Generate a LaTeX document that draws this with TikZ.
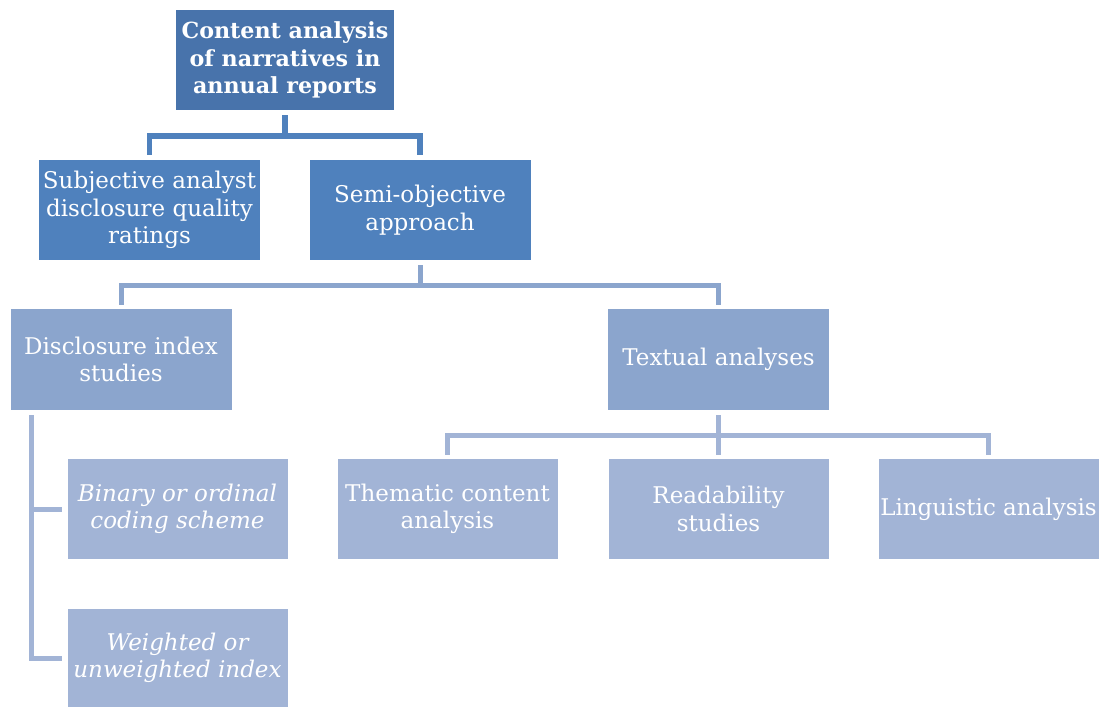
\documentclass[tikz,border=0pt]{standalone}
\usepackage{fontspec}
\setmainfont{DejaVu Serif}
\definecolor{cRoot}{HTML}{4873AB}
\definecolor{cL2}{HTML}{4F81BD}
\definecolor{cL3}{HTML}{8BA5CD}
\definecolor{cL4}{HTML}{A2B4D6}
\begin{document}
\begin{tikzpicture}[x=1pt,y=-1pt,
  box/.style={rectangle,inner sep=0pt,minimum width=#1,align=center,text=white,
    font=\fontsize{23}{27.5}\selectfont},
  box/.default=220pt,
  lvA/.style={box=218pt,fill=cRoot,minimum height=100pt,font=\fontsize{22.2}{27.5}\selectfont\bfseries},
  lvB/.style={box=221pt,fill=cL2,minimum height=100pt},
  lvC/.style={box=221pt,fill=cL3,minimum height=101pt},
  lvD/.style={box=220pt,fill=cL4,minimum height=100pt},
  connA/.style={draw=cL2,line width=5.5pt},
  connB/.style={draw=cL3,line width=5pt},
  connC/.style={draw=cL4,line width=5pt}]
\useasboundingbox (0,0) rectangle (1100,707);
% nodes
\node[lvA] (root) at (285,60) {Content analysis\\of narratives in\\annual reports};
\node[lvB] (subj) at (149.5,210) {Subjective analyst\\disclosure quality\\ratings};
\node[lvB] (semi) at (420,210) {Semi-objective\\approach};
\node[lvC] (disc) at (121,359.5) {Disclosure index\\studies};
\node[lvC] (text) at (718.5,359.5) {Textual analyses};
\node[lvD] (bin) at (177.5,509) {\itshape Binary or ordinal\\\itshape coding scheme};
\node[lvD,minimum height=98pt] (wei) at (177.5,658) {\itshape Weighted or\\\itshape unweighted index};
\node[lvD] (them) at (447.5,509) {Thematic content\\analysis};
\node[lvD] (read) at (718.5,509) {Readability\\studies};
\node[lvD] (ling) at (988.5,509) {Linguistic analysis};
% connectors
\draw[connA] ([yshift=-5pt]root.south) -- ++(0,21) coordinate (j1);
\draw[connA] ([yshift=5pt]subj.north) |- (j1) -| ([yshift=5pt]semi.north);
\draw[connB] ([yshift=-5pt]semi.south) -- ++(0,20) coordinate (j2);
\draw[connB] ([yshift=4pt]disc.north) |- (j2) -| ([yshift=4pt]text.north);
\draw[connC] ([yshift=-5pt]text.south) -- ++(0,20) coordinate (j3);
\draw[connC] ([yshift=4pt]them.north) |- (j3) -| ([yshift=4pt]ling.north);
\draw[connC] (j3) -- ([yshift=4pt]read.north);
\draw[connC] ([shift={(21,5)}]disc.south west) |- ([xshift=-5pt]wei.west);
\draw[connC] ([xshift=21pt]disc.south west |- bin.west) -- ([xshift=-5pt]bin.west);
\end{tikzpicture}
\end{document}
